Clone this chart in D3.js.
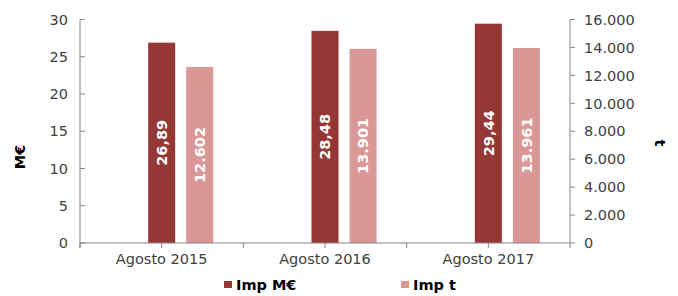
<!DOCTYPE html>
<html><head><meta charset="utf-8">
<script src="https://cdn.jsdelivr.net/npm/d3@7"></script>
<style>
html,body{margin:0;padding:0;background:#fff;}
text{font-family:"DejaVu Sans",Verdana,sans-serif;}
</style></head>
<body><svg id="c" width="678" height="296"></svg>
<script>
const categories = ["Agosto 2015", "Agosto 2016", "Agosto 2017"];
const impMEUR = [26.89, 28.48, 29.44];
const impT = [12602, 13901, 13961];
const leftTicks = [0, 5, 10, 15, 20, 25, 30];
const rightTicks = [0, 2000, 4000, 6000, 8000, 10000, 12000, 14000, 16000];
const seriesNames = ["Imp M€", "Imp t"];
const colors = {"Imp M€": "#953735", "Imp t": "#D99795"};

const svg = d3.select("#c");
const L = 80, R = 570, T = 19.5, B = 243;
const axisCol = "#868686", textCol = "#404040";
const fs = 14.5;

const x0 = d3.scaleBand().domain(categories).range([L, R]).padding(0);
const x1 = d3.scaleBand().domain(["", ...seriesNames]).range([0, x0.bandwidth()])
  .paddingInner(0.29).paddingOuter(0.79);
const yL = d3.scaleLinear().domain([0, 30]).range([B, T]);
const yR = d3.scaleLinear().domain([0, 16000]).range([B, T]);

const fmtR = v => d3.format(",")(v).replace(/,/g, ".");
const fmtL = v => d3.format(".2f")(v).replace(".", ",");

// bars
const data = categories.map((c, i) => ({c, vals: [
  {s: "Imp M€", v: impMEUR[i], y: yL(impMEUR[i]), lab: fmtL(impMEUR[i])},
  {s: "Imp t", v: impT[i], y: yR(impT[i]), lab: fmtR(impT[i])}
]}));
const g = svg.append("g");
data.forEach(d => {
  d.vals.forEach(b => {
    const xb = x0(d.c) + x1(b.s);
    g.append("rect").attr("x", xb).attr("y", b.y).attr("width", x1.bandwidth())
      .attr("height", B - b.y).attr("fill", colors[b.s]);
    const cx = xb + x1.bandwidth() / 2, cy = (b.y + B) / 2;
    g.append("text").attr("transform", `translate(${cx},${cy}) rotate(-90)`)
      .attr("text-anchor", "middle").attr("dy", "0.36em")
      .attr("fill", "#fff").attr("font-weight", "bold").attr("font-size", fs)
      .text(b.lab);
  });
});

// left axis
const la = svg.append("g");
la.append("line").attr("x1", L).attr("x2", L).attr("y1", T).attr("y2", B + 5).attr("stroke", axisCol);
leftTicks.forEach(t => {
  la.append("line").attr("x1", L).attr("x2", L + 5).attr("y1", yL(t)).attr("y2", yL(t)).attr("stroke", axisCol);
  la.append("text").attr("x", 68).attr("y", yL(t)).attr("dy", "0.36em").attr("text-anchor", "end")
    .attr("font-size", fs).attr("fill", textCol).text(t);
});
// right axis
const ra = svg.append("g");
ra.append("line").attr("x1", R).attr("x2", R).attr("y1", T).attr("y2", B + 5).attr("stroke", axisCol);
rightTicks.forEach(t => {
  ra.append("line").attr("x1", R).attr("x2", R + 5).attr("y1", yR(t)).attr("y2", yR(t)).attr("stroke", axisCol);
  ra.append("text").attr("x", 584).attr("y", yR(t)).attr("dy", "0.36em").attr("text-anchor", "start")
    .attr("font-size", fs).attr("fill", textCol).text(fmtR(t));
});
// category axis
const ca = svg.append("g");
ca.append("line").attr("x1", L).attr("x2", R).attr("y1", B).attr("y2", B).attr("stroke", axisCol);
categories.forEach(c => {
  const s = x0(c), m = s + x0.bandwidth() / 2;
  [s, m].forEach(xx => ca.append("line").attr("x1", xx).attr("x2", xx).attr("y1", B).attr("y2", B + 5).attr("stroke", axisCol));
  ca.append("text").attr("x", m).attr("y", 264).attr("text-anchor", "middle")
    .attr("font-size", fs).attr("fill", textCol).text(c);
});

// axis titles
svg.append("text").attr("transform", "translate(20,157) rotate(-90)").attr("text-anchor", "middle")
  .attr("dy", "0.36em").attr("font-weight", "bold").attr("font-size", fs).attr("fill", "#000").text("M€");
svg.append("text").attr("transform", "translate(660,143) rotate(90)").attr("text-anchor", "middle")
  .attr("dy", "0.36em").attr("font-weight", "bold").attr("font-size", fs).attr("fill", "#000").text("t");

// legend
const legX = [224, 401];
seriesNames.forEach((s, i) => {
  svg.append("rect").attr("x", legX[i]).attr("y", 281).attr("width", 8).attr("height", 7).attr("fill", colors[s]);
  svg.append("text").attr("x", legX[i] + 12).attr("y", 290).attr("font-weight", "bold")
    .attr("font-size", fs).attr("fill", "#000").text(s);
});
</script></body></html>
